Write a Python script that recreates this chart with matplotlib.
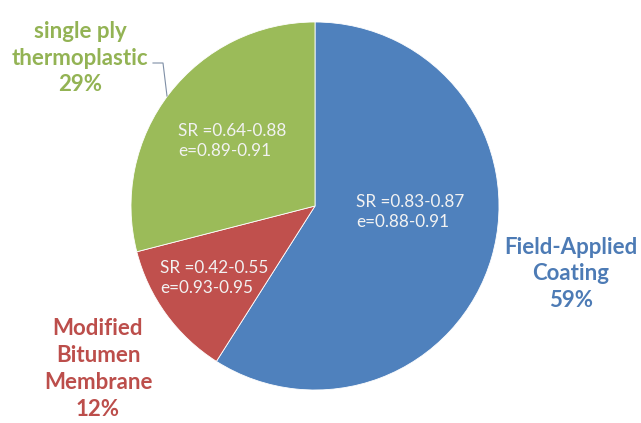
import matplotlib.pyplot as plt

plt.rcParams["font.family"] = ["Lato", "DejaVu Sans"]

categories = ["Field-Applied\nCoating", "Modified\nBitumen\nMembrane", "single ply\nthermoplastic"]
shares = [59, 12, 29]
sr_ranges = ["SR =0.83-0.87", "SR =0.42-0.55", "SR =0.64-0.88"]
e_ranges = ["e=0.88-0.91", "e=0.93-0.95", "e=0.89-0.91"]
colors = ["#4F81BD", "#C0504D", "#9BBB59"]
label_colors = ["#4D7BB5", "#BC4E4B", "#93B354"]

W, H = 641, 423
fig = plt.figure(figsize=(W / 100, H / 100), dpi=100)
ax = fig.add_axes([0, 0, 1, 1])


def py(y):
    # pixel row -> data y
    return H - y


ax.pie(shares, colors=colors, startangle=90, counterclock=False,
       center=(315, py(206)), radius=184, frame=True,
       wedgeprops=dict(edgecolor="white", linewidth=0.6))
ax.set_xlim(0, W)
ax.set_ylim(0, H)
ax.set_aspect("equal")
ax.axis("off")

# outer category labels
outer_pos = [(571, 274), (98, 369), (80, 58)]
for name, share, (x, y), c in zip(categories, shares, outer_pos, label_colors):
    ax.text(x, py(y), f"{name}\n{share}%", ha="center", va="center",
            fontsize=16, fontweight="bold", color=c, linespacing=1.35)

# inner SR / e annotations
inner_pos = [(356, 212), (160, 278), (178, 141)]
for sr, e, (x, y) in zip(sr_ranges, e_ranges, inner_pos):
    ax.text(x, py(y), f"{sr}\n{e}", ha="left", va="center",
            fontsize=12.3, color="#F2F2F2", linespacing=1.3)

# leader line for the green slice label
ax.plot([153, 163, 167], [py(63), py(63), py(96)], color="#7F8FA6", linewidth=0.8)

fig.savefig("out.png", dpi=100, facecolor="white")
